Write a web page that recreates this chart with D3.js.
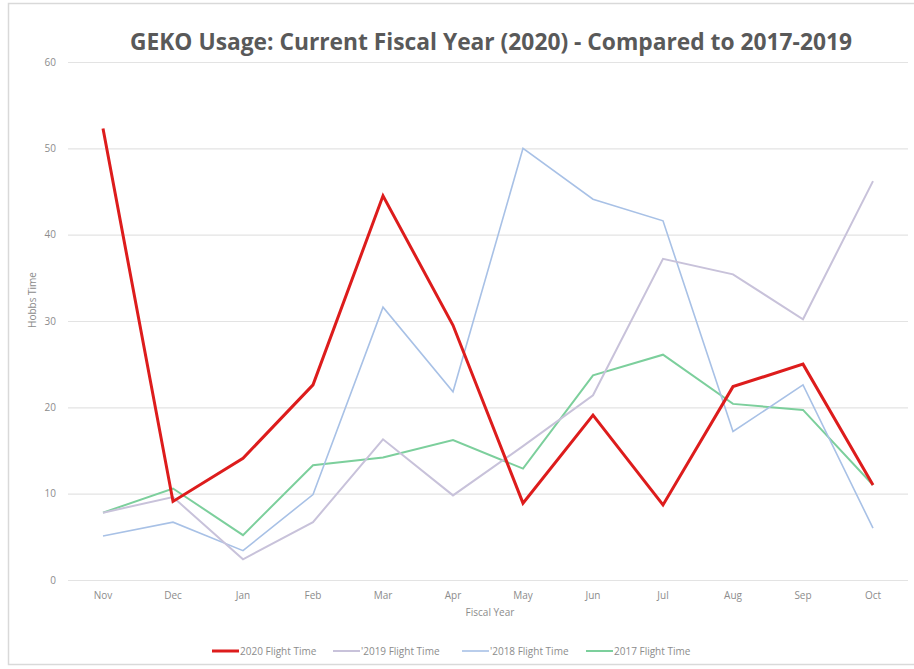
<!DOCTYPE html>
<html>
<head>
<meta charset="utf-8">
<script src="https://cdn.jsdelivr.net/npm/d3@7"></script>
<style>
  body { margin: 0; background: #fff; }
  text { font-family: 'Open Sans', 'Noto Sans', sans-serif; }
</style>
</head>
<body>
<div id="chart"></div>
<script>
'use strict';

// data
var months = ['Nov', 'Dec', 'Jan', 'Feb', 'Mar', 'Apr', 'May', 'Jun', 'Jul', 'Aug', 'Sep', 'Oct']
var fy2020 = [52.3, 9.1, 14.1, 22.6, 44.5, 29.5, 8.9, 19.1, 8.7, 22.4, 25.0, 11.0]
var fy2019 = [7.8, 9.6, 2.4, 6.7, 16.3, 9.8, 15.5, 21.4, 37.2, 35.4, 30.2, 46.2]
var fy2018 = [5.1, 6.7, 3.4, 9.9, 31.6, 21.8, 50.0, 44.1, 41.6, 17.2, 22.6, 6.0]
var fy2017 = [7.8, 10.6, 5.2, 13.3, 14.2, 16.2, 12.9, 23.7, 26.1, 20.4, 19.7, 11.0]
var yTicks = [0, 10, 20, 30, 40, 50, 60]

var series = [
    { name: '2020 Flight Time', values: fy2020, color: '#dd1c1c', width: 3 },
    { name: "'2019 Flight Time", values: fy2019, color: '#c8c2da', width: 2 },
    { name: "'2018 Flight Time", values: fy2018, color: '#a8c1e6', width: 1.6 },
    { name: '2017 Flight Time', values: fy2017, color: '#7ccf9c', width: 2 }
]

var width = 914, height = 669
var plot = { left: 68, right: 908, top: 62, bottom: 580 }

var svg = d3.select('#chart').append('svg')
    .attr('width', width).attr('height', height)

// outer frame
svg.append('rect')
    .attr('x', 8.5).attr('y', 3.5)
    .attr('width', width - 6).attr('height', height - 8)
    .style('fill', 'none').style('stroke', '#d9d9d9').style('stroke-width', 1.5)

var x = d3.scaleBand().domain(months).range([plot.left, plot.right])
var y = d3.scaleLinear().domain([0, 60]).range([plot.bottom, plot.top])

// gridlines + y labels
var yAxis = svg.append('g')
    .attr('transform', 'translate(' + plot.left + ',0)')
    .call(d3.axisLeft(y).tickValues(yTicks).tickSize(-(plot.right - plot.left)).tickPadding(12))
yAxis.select('.domain').remove()
yAxis.selectAll('line').style('stroke', '#e3e3e3').style('stroke-width', 1.2)
yAxis.selectAll('text').style('fill', '#8c8c8c').style('font-size', '10px')

// x labels
var xAxis = svg.append('g')
    .attr('transform', 'translate(0,' + plot.bottom + ')')
    .call(d3.axisBottom(x).tickSize(0).tickPadding(12))
xAxis.select('.domain').remove()
xAxis.selectAll('text').style('fill', '#8c8c8c').style('font-size', '10px')

// lines
var line = d3.line()
    .x(function(d, i) { return x(months[i]) + x.bandwidth() / 2 })
    .y(function(d) { return y(d) })

// draw back to front so 2020 sits on top
series.slice().reverse().forEach(function(s) {
    svg.append('path')
        .datum(s.values)
        .attr('d', line)
        .style('fill', 'none')
        .style('stroke', s.color)
        .style('stroke-width', s.width)
        .style('stroke-linejoin', 'miter')
})

// title
svg.append('text')
    .attr('x', 491).attr('y', 50)
    .attr('text-anchor', 'middle')
    .attr('textLength', 722).attr('lengthAdjust', 'spacingAndGlyphs')
    .style('font-size', '24px').style('font-weight', 'bold').style('fill', '#595959')
    .text('GEKO Usage: Current Fiscal Year (2020) - Compared to 2017-2019')

// axis titles
svg.append('text')
    .attr('x', 490).attr('y', 616)
    .attr('text-anchor', 'middle')
    .style('font-size', '10px').style('fill', '#8c8c8c')
    .text('Fiscal Year')

svg.append('text')
    .attr('transform', 'translate(36,300) rotate(-90)')
    .attr('text-anchor', 'middle')
    .style('font-size', '10px').style('fill', '#8c8c8c')
    .text('Hobbs Time')

// legend
var legendX = [212, 333, 462, 586]
var legend = svg.append('g').attr('transform', 'translate(0,651)')
series.forEach(function(s, i) {
    var g = legend.append('g').attr('transform', 'translate(' + legendX[i] + ',0)')
    g.append('line')
        .attr('x1', 0).attr('x2', 27).attr('y1', 0).attr('y2', 0)
        .style('stroke', s.color).style('stroke-width', s.width)
    g.append('text')
        .attr('x', 28).attr('y', 3.5)
        .style('font-size', '10px').style('fill', '#8c8c8c')
        .text(s.name)
})
</script>
</body>
</html>
